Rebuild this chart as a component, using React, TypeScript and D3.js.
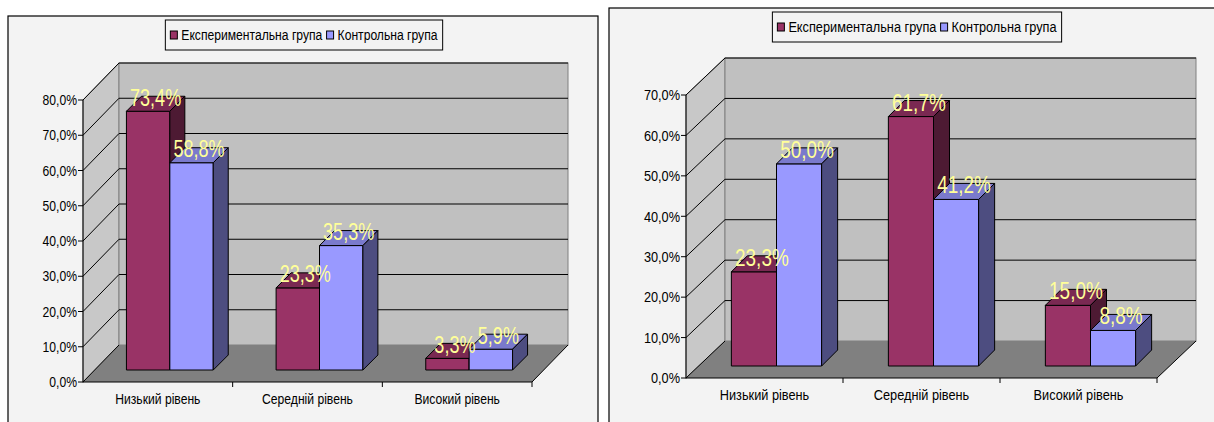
import React from "react";
import * as d3 from "d3";

// Levels shown on the category axis
const categories = ["Низький рівень", "Середній рівень", "Високий рівень"];
// Two groups compared in each chart
const seriesNames = ["Експериментальна група", "Контрольна група"];
// Chart 1 values, %
const firstExperimental = [73.4, 23.3, 3.3];
const firstControl = [58.8, 35.3, 5.9];
// Chart 2 values, %
const secondExperimental = [23.3, 61.7, 15.0];
const secondControl = [50.0, 41.2, 8.8];
// Value-axis ticks
const firstTicks = [0, 10, 20, 30, 40, 50, 60, 70, 80];
const secondTicks = [0, 10, 20, 30, 40, 50, 60, 70];

const FRONT = ["#993366", "#9999ff"];
const TOP = ["#7a2952", "#7a7acc"];
const SIDE = ["#4d1a33", "#4d4d80"];
const LABEL = "#ffff99";
const FONT = "'Liberation Sans', Arial, sans-serif";

let canvasCtx: CanvasRenderingContext2D | null = null;
function textWidth(t: string, size: number) {
  if (!canvasCtx) canvasCtx = document.createElement("canvas").getContext("2d");
  if (!canvasCtx) return t.length * size * 0.5;
  canvasCtx.font = `${size}px ${FONT}`;
  return canvasCtx.measureText(t).width;
}

type Layout = {
  frame: [number, number, number, number];
  legendCx: number;
  legendY: number;
  axisX: number;
  floorRight: number;
  y0: number;
  yMax: number;
  dx: number;
  dy: number;
  d1: number;
  d2: number;
  groupFrac: number;
  sx: number;
};

function Chart3D({
  layout,
  series,
  ticks,
}: {
  layout: Layout;
  series: number[][];
  ticks: number[];
}) {
  const L = layout;
  const maxV = ticks[ticks.length - 1];
  const y = d3.scaleLinear().domain([0, maxV]).range([L.y0, L.yMax]);
  const x = d3.scaleBand<string>().domain(categories).range([L.axisX, L.floorRight]).padding(0);
  const bw = x.bandwidth();
  const gw = bw * L.groupFrac;
  const inner = d3
    .scaleBand<number>()
    .domain(series.map((_, i) => i))
    .range([(bw - gw) / 2, (bw + gw) / 2])
    .padding(0);
  const w = inner.bandwidth();
  const dd = L.d2 - L.d1;

  const backL = L.axisX + L.dx;
  const backR = L.floorRight + L.dx;
  const backTop = y(maxV) - L.dy;
  const backBottom = L.y0 - L.dy;

  const sx = L.sx;
  const squeeze = (cx: number) => `translate(${cx},0) scale(${sx},1) translate(${-cx},0)`;

  // legend layout
  const fs = 15;
  const tw = seriesNames.map((s) => textWidth(s, fs) * sx);
  const pad = 5;
  const sw = 7;
  const legendW = pad + sw + 4 + tw[0] + 4 + sw + 4 + tw[1] + pad;
  const legendX = L.legendCx - legendW / 2;
  const legendH = 30;
  let lx = legendX + pad;
  const legendItems = seriesNames.map((name, i) => {
    const sxPos = lx;
    const tx = lx + sw + 4;
    lx = tx + tw[i] + 4;
    return { name, sxPos, tx, i };
  });

  const bars: React.ReactNode[] = [];
  const labels: React.ReactNode[] = [];
  categories.forEach((c, ci) => {
    series.forEach((vals, si) => {
      const v = vals[ci];
      const bx = (x(c) as number) + (inner(si) as number) + L.d1;
      const yt = y(v) - L.d1;
      const yb = L.y0 - L.d1;
      bars.push(
        <g key={`b${ci}-${si}`} stroke="#000" strokeWidth={1} strokeLinejoin="round">
          <rect x={bx} y={yt} width={w} height={yb - yt} fill={FRONT[si]} />
          <polygon
            points={`${bx},${yt} ${bx + w},${yt} ${bx + w + dd},${yt - dd} ${bx + dd},${yt - dd}`}
            fill={TOP[si]}
          />
          <polygon
            points={`${bx + w},${yt} ${bx + w + dd},${yt - dd} ${bx + w + dd},${yb - dd} ${bx + w},${yb}`}
            fill={SIDE[si]}
          />
        </g>
      );
      const cx = bx + w / 2 + dd / 2;
      const ly = yt - dd / 2 + 2;
      labels.push(
        <text
          key={`l${ci}-${si}`}
          x={cx}
          y={ly}
          textAnchor="middle"
          fontSize={24}
          fontFamily={FONT}
          fill={LABEL}
          transform={`translate(${cx},0) scale(${sx * 0.93},1) translate(${-cx},0)`}
        >
          {v.toFixed(1).replace(".", ",") + "%"}
        </text>
      );
    });
  });

  const [fx, fy, fw, fh] = L.frame;
  return (
    <g>
      <rect x={fx} y={fy} width={fw} height={fh} fill="#f3f3f3" stroke="#000" strokeWidth={1.2} />
      {/* side wall */}
      <polygon
        points={`${L.axisX},${L.y0} ${L.axisX},${y(maxV)} ${backL},${backTop} ${backL},${backBottom}`}
        fill="#c8c8c8"
        stroke="#808080"
      />
      {/* back wall */}
      <rect x={backL} y={backTop} width={backR - backL} height={backBottom - backTop} fill="#c0c0c0" stroke="#808080" />
      {/* floor */}
      <polygon
        points={`${L.axisX},${L.y0} ${L.floorRight},${L.y0} ${backR},${backBottom} ${backL},${backBottom}`}
        fill="#808080"
      />
      {/* gridlines */}
      {ticks.map((t) => (
        <g key={`g${t}`} stroke="#000" strokeWidth={1}>
          {t > 0 && <line x1={backL} x2={backR} y1={y(t) - L.dy} y2={y(t) - L.dy} />}
          <line x1={L.axisX} y1={y(t)} x2={backL} y2={y(t) - L.dy} />
        </g>
      ))}
      <line x1={backR} y1={backBottom} x2={L.floorRight} y2={L.y0} stroke="#000" />
      {/* value axis */}
      <line x1={L.axisX} x2={L.axisX} y1={L.y0 + 0.5} y2={y(maxV)} stroke="#000" />
      {ticks.map((t) => (
        <g key={`t${t}`}>
          <line x1={L.axisX - 5} x2={L.axisX} y1={y(t)} y2={y(t)} stroke="#000" />
          <text
            x={L.axisX - 6}
            y={y(t)}
            dy="0.35em"
            textAnchor="end"
            fontSize={fs}
            fontFamily={FONT}
            fill="#000"
            transform={squeeze(L.axisX - 6)}
          >
            {t.toFixed(1).replace(".", ",") + "%"}
          </text>
        </g>
      ))}
      {/* category axis */}
      <line x1={L.axisX} x2={L.floorRight} y1={L.y0} y2={L.y0} stroke="#000" />
      {categories.map((c, i) => {
        const bx = (x(c) as number) + bw;
        const cx = (x(c) as number) + bw / 2;
        return (
          <g key={`c${i}`}>
            <line x1={bx} x2={bx} y1={L.y0} y2={L.y0 + 5} stroke="#000" />
            <text
              x={cx}
              y={L.y0 + 17}
              dy="0.35em"
              textAnchor="middle"
              fontSize={fs}
              fontFamily={FONT}
              fill="#000"
              transform={squeeze(cx)}
            >
              {c}
            </text>
          </g>
        );
      })}
      {bars}
      {labels}
      {/* legend */}
      <rect x={legendX} y={L.legendY} width={legendW} height={legendH} fill="#f3f3f3" stroke="#000" />
      {legendItems.map((it) => (
        <g key={`lg${it.i}`}>
          <rect
            x={it.sxPos}
            y={L.legendY + legendH / 2 - 4}
            width={sw}
            height={8}
            fill={FRONT[it.i]}
            stroke="#000"
          />
          <text
            x={it.tx}
            y={L.legendY + legendH / 2}
            dy="0.35em"
            fontSize={fs}
            fontFamily={FONT}
            fill="#000"
            transform={squeeze(it.tx)}
          >
            {it.name}
          </text>
        </g>
      ))}
    </g>
  );
}

const leftLayout: Layout = {
  frame: [8, 16, 590, 420],
  legendCx: 304,
  legendY: 20,
  axisX: 83,
  floorRight: 532,
  y0: 382,
  yMax: 100,
  dx: 36,
  dy: 37,
  d1: 12,
  d2: 27,
  groupFrac: 0.58,
  sx: 0.81,
};

const rightLayout: Layout = {
  frame: [609, 8, 620, 420],
  legendCx: 917,
  legendY: 12,
  axisX: 686,
  floorRight: 1157,
  y0: 378,
  yMax: 95,
  dx: 39,
  dy: 37,
  d1: 12,
  d2: 28,
  groupFrac: 0.575,
  sx: 0.85,
};

export default function App() {
  return (
    <svg
      width={1214}
      height={422}
      style={{ position: "absolute", left: 0, top: 0, background: "#fff" }}
    >
      <Chart3D layout={leftLayout} series={[firstExperimental, firstControl]} ticks={firstTicks} />
      <Chart3D layout={rightLayout} series={[secondExperimental, secondControl]} ticks={secondTicks} />
    </svg>
  );
}
